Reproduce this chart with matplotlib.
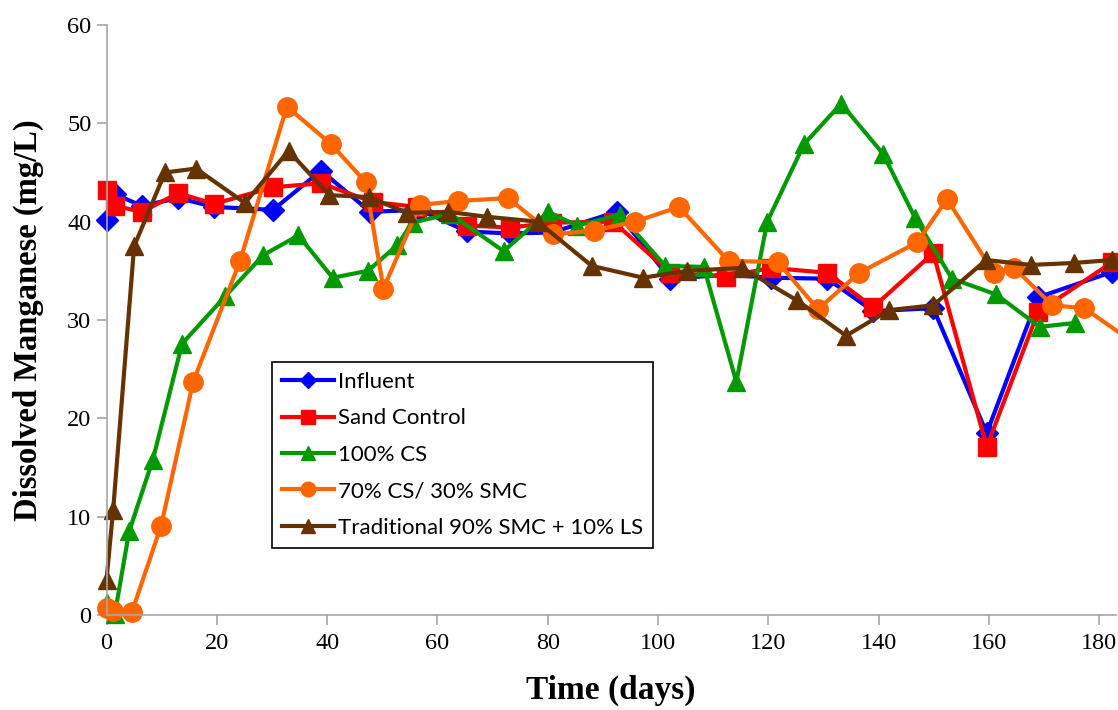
import numpy as np
import matplotlib
matplotlib.use('Agg')
import matplotlib.pyplot as plt

# sampling days and dissolved Mn (mg/L) for each column
inf_days = [0, 1.5, 6.4, 13, 19.5, 30.2, 38.9, 47.8, 56.8, 65.4, 73.2, 80.8, 92.5,
            102.2, 112.3, 120.5, 130.7, 139, 149.9, 159.6, 168.9, 182.4]
inf_vals = [40.2, 42.8, 41.6, 42.4, 41.5, 41.2, 45.2, 41.0, 41.2, 39.0, 38.8, 38.9, 41.0,
            34.2, 34.6, 34.3, 34.2, 30.9, 31.2, 18.5, 32.3, 34.9]

sand_days = [0, 1.5, 6.4, 13, 19.5, 30.2, 38.9, 48.3, 56.3, 65.4, 73.2, 80.8, 91.9,
             102.2, 112.3, 120.5, 130.7, 139, 149.9, 159.6, 168.9, 182.4]
sand_vals = [43.2, 41.6, 41.0, 42.9, 41.8, 43.5, 43.9, 42.0, 41.5, 39.6, 39.4, 39.9, 40.0,
             34.8, 34.4, 35.3, 34.8, 31.3, 36.8, 17.1, 30.8, 35.9]

cs_days = [0, 1.5, 4.1, 8.4, 13.7, 21.5, 28.4, 34.8, 41.0, 47.4, 52.7, 55.5, 62.3, 72.0,
           80.1, 85.3, 93.1, 101.3, 108.3, 114.2, 119.8, 126.5, 133.2, 140.8, 146.6,
           153.3, 161.3, 169.2, 175.6]
cs_vals = [1.2, 0.1, 8.5, 15.8, 27.6, 32.4, 36.6, 38.6, 34.3, 35.0, 37.6, 39.9, 40.8, 37.0,
           41.0, 39.6, 40.7, 35.5, 35.4, 23.7, 40.0, 47.9, 52.0, 46.9, 40.4,
           34.2, 32.6, 29.3, 29.7]

mix_days = [0, 1.2, 4.6, 9.9, 15.7, 24.2, 32.7, 40.7, 47.0, 50.2, 56.8, 63.7, 72.8, 81.0,
            88.3, 95.8, 103.8, 112.8, 121.7, 129.0, 136.5, 147.0, 152.4, 160.9, 164.6,
            171.5, 177.3, 186]
mix_vals = [0.7, 0.4, 0.3, 9.1, 23.7, 36.0, 51.7, 47.9, 44.0, 33.2, 41.7, 42.1, 42.4, 38.7,
            39.1, 40.0, 41.5, 36.0, 35.9, 31.1, 34.8, 37.9, 42.3, 34.8, 35.3,
            31.5, 31.2, 27.8]

trad_days = [0, 1.2, 5.0, 10.6, 16.2, 25.1, 33.0, 40.4, 47.5, 54.5, 61.9, 68.9, 78.2,
             88.0, 97.3, 105.3, 115.2, 125.2, 134.1, 141.9, 149.9, 159.5, 167.6, 175.4, 182.3]
trad_vals = [3.6, 10.7, 37.5, 45.0, 45.4, 41.9, 47.2, 42.7, 42.5, 40.9, 41.0, 40.5, 40.0,
             35.5, 34.3, 35.0, 35.3, 32.0, 28.4, 31.0, 31.5, 36.1, 35.6, 35.8, 36.1]

labels = ['Influent', 'Sand Control', '100% CS', '70% CS/ 30% SMC',
          'Traditional 90% SMC + 10% LS']
x_ticks = np.arange(0, 181, 20)
y_ticks = np.arange(0, 61, 10)

fig = plt.figure(figsize=(11.18, 7.10), dpi=100)
ax = fig.add_axes([0.0953, 0.1338, 0.9027, 0.8310])

series = [
    (inf_days, inf_vals, '#0000FF', 'D', 11),
    (sand_days, sand_vals, '#FF0000', 's', 13),
    (cs_days, cs_vals, '#009900', '^', 13),
    (mix_days, mix_vals, '#FF6600', 'o', 14),
    (trad_days, trad_vals, '#663300', '^', 13),
]
for (d, v, c, m, ms), lab in zip(series, labels):
    ax.plot(d, v, color=c, marker=m, markersize=ms, linewidth=3,
            markeredgecolor=c, label=lab, clip_on=False)

ax.set_xlim(0, 183)
ax.set_ylim(0, 60)
ax.set_xticks(x_ticks)
ax.set_yticks(y_ticks)

serif = 'Liberation Serif'
for t in ax.get_xticklabels() + ax.get_yticklabels():
    t.set_fontfamily(serif)
    t.set_fontsize(17.5)

for s in ['top', 'right']:
    ax.spines[s].set_visible(False)
for s in ['left', 'bottom']:
    ax.spines[s].set_color('#a6a6a6')
    ax.spines[s].set_linewidth(1.2)
ax.tick_params(axis='both', direction='out', length=7, width=1.2, color='#a6a6a6')
ax.tick_params(axis='y', pad=4)
ax.tick_params(axis='x', pad=6)

ax.set_xlabel('Time (days)', fontfamily=serif, fontweight='bold', fontsize=24)
ax.set_ylabel('Dissolved Manganese (mg/L)', fontfamily=serif, fontweight='bold', fontsize=23.5)
ax.xaxis.set_label_coords(0.5, -0.102)
ax.yaxis.set_label_coords(-0.062, 0.5)

leg = ax.legend(loc='upper left', bbox_to_anchor=(0.164, 0.429), frameon=True,
                fancybox=False, edgecolor='black', framealpha=1,
                prop={'family': 'Lato', 'size': 16}, markerscale=0.75,
                handlelength=2.35, handletextpad=0.15, labelspacing=0.74,
                borderpad=0.45, borderaxespad=0)
leg.get_frame().set_linewidth(1.2)

fig.savefig('out.png', dpi=100)
